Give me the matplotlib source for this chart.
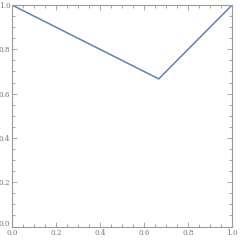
import matplotlib
matplotlib.use("Agg")
import matplotlib.pyplot as plt
import matplotlib.transforms as mtransforms
from matplotlib.ticker import MultipleLocator

x_vals = [0.0, 2 / 3, 1.0]
y_vals = [1.0, 2 / 3, 1.0]

line_color = "#5E81B5"
axis_color = "#999999"
text_color = "#777777"

fig = plt.figure(figsize=(2.4, 2.4), dpi=100)
ax = fig.add_axes([0.05, 0.056, 0.917, 0.923])

ax.plot(x_vals, y_vals, color=line_color, linewidth=1.1, solid_joinstyle="miter")

ax.set_xlim(0, 1)
ax.set_ylim(0, 1)

ax.xaxis.set_major_locator(MultipleLocator(0.2))
ax.yaxis.set_major_locator(MultipleLocator(0.2))
ax.xaxis.set_minor_locator(MultipleLocator(0.05))
ax.yaxis.set_minor_locator(MultipleLocator(0.05))
ax.xaxis.set_major_formatter(lambda v, p: f"{v:.1f}")
ax.yaxis.set_major_formatter(lambda v, p: f"{v:.1f}")

for side in ax.spines.values():
    side.set_color(axis_color)
    side.set_linewidth(0.8)

ax.tick_params(which="both", direction="in", top=True, right=True,
               color=axis_color, width=0.6, labelcolor=text_color,
               labelsize=5.2, pad=1.2)
ax.tick_params(axis="x", which="major", pad=1.8)
ax.tick_params(which="major", length=3.5)
ax.tick_params(which="minor", length=2)

fig.canvas.draw()
for lbl in ax.get_xticklabels() + ax.get_yticklabels():
    lbl.set_family("DejaVu Serif")

# lift the y-axis "0.0" a little so it clears the x-axis "0.0"
for tick in ax.yaxis.get_major_ticks():
    if abs(tick.get_loc()) < 1e-9:
        lbl = tick.label1
        lbl.set_transform(lbl.get_transform()
                          + mtransforms.ScaledTranslation(0, 2.5 / 72, fig.dpi_scale_trans))

fig.savefig("out.png", dpi=100)
